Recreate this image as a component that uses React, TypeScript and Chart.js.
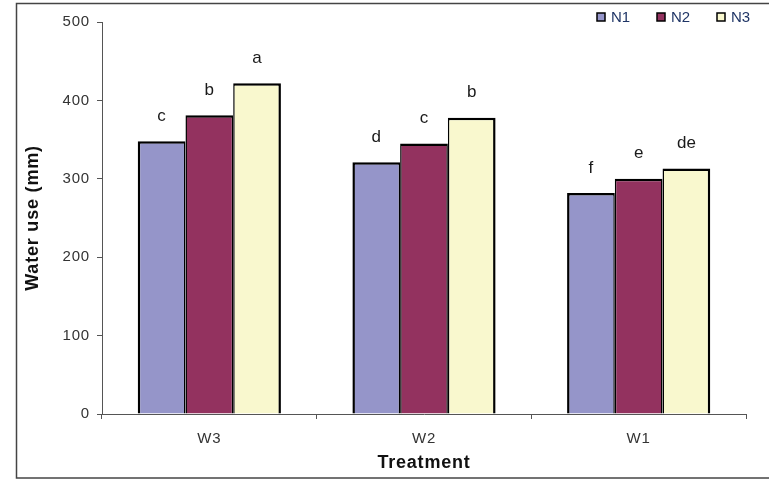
import React, { useEffect, useRef } from "react";
import { Chart, registerables } from "chart.js";

Chart.register(...registerables);

const categories = ["W3", "W2", "W1"];
const seriesNames = ["N1", "N2", "N3"];
const n1Values = [348, 321, 282];
const n2Values = [381, 345, 300];
const n3Values = [422, 378, 313];
const n1Letters = ["c", "d", "f"];
const n2Letters = ["b", "c", "e"];
const n3Letters = ["a", "b", "de"];
const yTicks = [0, 100, 200, 300, 400, 500];

const colors = ["#9595C9", "#93325F", "#F9F8CE"];
const FONT = "'Liberation Sans', Arial, sans-serif";

export default function App() {
  const ref = useRef<HTMLCanvasElement | null>(null);
  useEffect(() => {
    if (!ref.current) return;
    const letters = [n1Letters, n2Letters, n3Letters];
    const framePlugin = {
      id: "frame",
      beforeDraw(chart: any) {
        const ctx = chart.ctx;
        ctx.save();
        ctx.fillStyle = "#fff";
        ctx.fillRect(0, 0, chart.width, chart.height);
        ctx.strokeStyle = "#444";
        ctx.lineWidth = 1.5;
        ctx.strokeRect(16.5, 3.5, 800, 474.5);
        ctx.restore();
        (ctx as any).letterSpacing = "0.8px";
      },
    };
    const labelPlugin = {
      id: "letters",
      afterDatasetsDraw(chart: any) {
        const ctx = chart.ctx;
        ctx.save();
        (ctx as any).letterSpacing = "0px";
        ctx.font = `17px ${FONT}`;
        ctx.fillStyle = "#1a1a1a";
        ctx.textAlign = "center";
        ctx.textBaseline = "middle";
        chart.data.datasets.forEach((ds: any, di: number) => {
          const meta = chart.getDatasetMeta(di);
          meta.data.forEach((el: any, i: number) => {
            ctx.fillText(letters[di][i], el.x, el.y - 25);
          });
        });
        ctx.restore();
      },
    };
    const legendPlugin = {
      id: "customLegend",
      afterDraw(chart: any) {
        const ctx = chart.ctx;
        const xs = [597, 657, 717];
        ctx.save();
        (ctx as any).letterSpacing = "0px";
        ctx.font = `15px ${FONT}`;
        ctx.textBaseline = "middle";
        ctx.textAlign = "left";
        seriesNames.forEach((name, i) => {
          ctx.fillStyle = colors[i];
          ctx.fillRect(xs[i], 13, 8, 8);
          ctx.strokeStyle = "#000";
          ctx.lineWidth = 1.5;
          ctx.strokeRect(xs[i], 13, 8, 8);
          ctx.fillStyle = "#1F3566";
          ctx.fillText(name, xs[i] + 14, 18);
        });
        ctx.restore();
        (ctx as any).letterSpacing = "0px";
      },
    };
    const borders = [
      { top: 2.5, left: 2.5, right: 1.5, bottom: 0 },
      { top: 2.5, left: 1.5, right: 1.5, bottom: 0 },
      { top: 2.5, left: 1.5, right: 2.5, bottom: 0 },
    ];
    const chart = new Chart(ref.current, {
      type: "bar",
      data: {
        labels: categories,
        datasets: [n1Values, n2Values, n3Values].map((vals, i) => ({
          label: seriesNames[i],
          data: vals,
          backgroundColor: colors[i],
          borderColor: "#000",
          borderWidth: borders[i],
          borderSkipped: false,
          categoryPercentage: 0.667,
          barPercentage: 1,
        })),
      },
      options: {
        responsive: false,
        animation: false,
        layout: { padding: { left: 0, right: 23, top: 22, bottom: 0 } },
        plugins: {
          legend: { display: false },
          tooltip: { enabled: false },
        },
        scales: {
          x: {
            grid: {
              display: true,
              drawOnChartArea: false,
              drawTicks: true,
              tickLength: 5,
              color: "#555",
              offset: true,
            },
            border: { display: true, color: "#555", width: 1 },
            ticks: { color: "#333", font: { family: FONT, size: 15 }, padding: 11 },
            title: {
              display: true,
              text: "Treatment",
              color: "#111",
              font: { family: FONT, size: 18, weight: "bold" },
              padding: { top: 0, bottom: 6 },
            },
            afterFit(scale: any) {
              scale.height = 66;
            },
          },
          y: {
            min: 0,
            max: 500,
            afterBuildTicks(scale: any) {
              scale.ticks = yTicks.map((v) => ({ value: v }));
            },
            grid: {
              display: true,
              drawOnChartArea: false,
              drawTicks: true,
              tickLength: 5,
              color: "#555",
            },
            border: { display: true, color: "#555", width: 1 },
            ticks: { color: "#333", font: { family: FONT, size: 15 }, padding: 7 },
            title: {
              display: true,
              text: "Water use (mm)",
              color: "#111",
              font: { family: FONT, size: 18, weight: "bold" },
              padding: { top: 22, bottom: 0 },
            },
            afterFit(scale: any) {
              scale.width = 102;
            },
          },
        },
      },
      plugins: [framePlugin, labelPlugin, legendPlugin],
    });
    return () => chart.destroy();
  }, []);
  return (
    <div style={{ position: "fixed", left: 0, top: 0, width: 769, height: 480 }}>
      <canvas ref={ref} width={769} height={480} style={{ display: "block" }} />
    </div>
  );
}
